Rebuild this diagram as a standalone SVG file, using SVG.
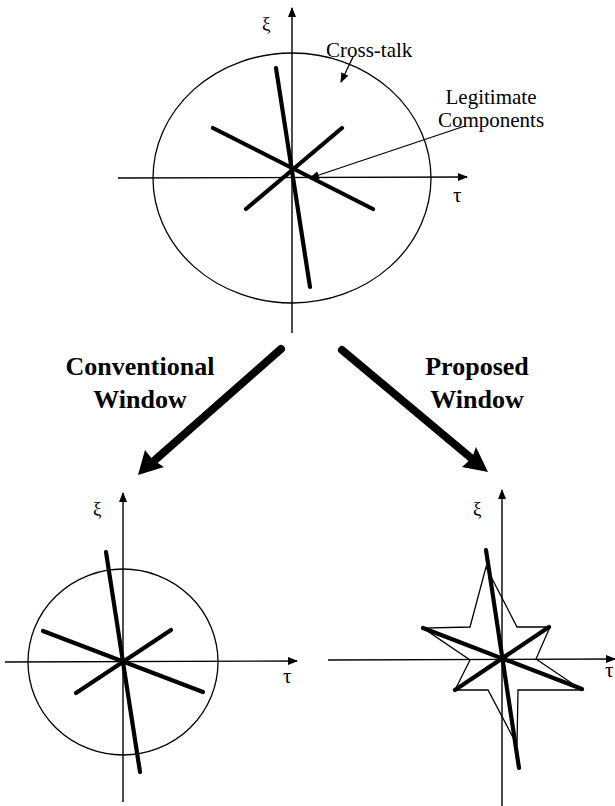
<svg xmlns="http://www.w3.org/2000/svg" width="615" height="806" viewBox="0 0 615 806">
<defs>
<marker id="ah" viewBox="0 0 10 8" refX="9" refY="4" markerWidth="10" markerHeight="8" markerUnits="userSpaceOnUse" orient="auto">
<path d="M0,0 L10,4 L0,8 Z" fill="#000"/>
</marker>
<style>
.thin{fill:none;stroke:#000;stroke-width:1.3}
.axis{fill:none;stroke:#000;stroke-width:1.4;marker-end:url(#ah)}
.thick{fill:none;stroke:#000;stroke-width:4.2;stroke-linecap:round}
.lbl{font-family:"Liberation Serif","Times New Roman",serif;font-size:21px;fill:#000}
.sym{font-family:"Liberation Serif","DejaVu Serif",serif;fill:#000}
.big{font-family:"Liberation Serif","Times New Roman",serif;font-size:26px;font-weight:bold;fill:#000;text-anchor:middle}
.fat{fill:none;stroke:#000;stroke-width:8;stroke-linecap:round}
</style>
</defs>
<rect width="615" height="806" fill="#fff"/>

<g id="top-plot">
<ellipse class="thin" cx="292" cy="178" rx="139" ry="125"/>
<line class="axis" x1="292" y1="333" x2="292" y2="8"/>
<line class="axis" x1="118" y1="178" x2="467" y2="177"/>
<line class="thick" x1="276" y1="68" x2="310" y2="287"/>
<line class="thick" x1="213" y1="128" x2="373" y2="209"/>
<line class="thick" x1="342" y1="128" x2="246" y2="209"/>
<text class="sym" x="262" y="30" font-size="19">ξ</text>
<text class="sym" x="453" y="202" font-size="21">τ</text>
</g>

<g id="cross-talk-label">
<text class="lbl" x="326" y="57">Cross-talk</text>
</g>
<g id="legitimate-label">
<text class="lbl" x="491" y="104" font-size="20.5" text-anchor="middle">Legitimate</text>
<text class="lbl" x="491" y="127" font-size="20.5" text-anchor="middle">Components</text>
</g>

<g id="bottom-left-plot">
<ellipse class="thin" cx="123" cy="662" rx="95" ry="93"/>
<line class="axis" x1="123" y1="802" x2="123" y2="493"/>
<line class="axis" x1="5" y1="662" x2="297" y2="661"/>
<line class="thick" x1="106" y1="552" x2="140" y2="772"/>
<line class="thick" x1="43" y1="631" x2="203" y2="692"/>
<line class="thick" x1="171" y1="630" x2="76" y2="693"/>
<text class="sym" x="93" y="515" font-size="19">ξ</text>
<text class="sym" x="283" y="683" font-size="21">τ</text>
</g>

<g id="bottom-right-plot">
<line class="axis" x1="502" y1="806" x2="502" y2="490"/>
<line class="axis" x1="328" y1="660" x2="615" y2="659"/>
<polygon class="thin" points="486,567 517,627 550,627 536,659 582,690 518,690 517,745 488,690 455,690 470,660 423,628 470,627"/>
<line class="thick" x1="486" y1="550" x2="519" y2="768"/>
<line class="thick" x1="423" y1="628" x2="582" y2="689"/>
<line class="thick" x1="549" y1="627" x2="455" y2="690"/>
<text class="sym" x="473" y="515" font-size="19">ξ</text>
<text class="sym" x="605" y="677" font-size="21">τ</text>
</g>

<g id="conventional-label">
<text class="big" x="140" y="375">Conventional</text>
<text class="big" x="140" y="408">Window</text>
</g>
<g id="proposed-label">
<text class="big" x="477" y="375">Proposed</text>
<text class="big" x="477" y="408">Window</text>
</g>

<g id="connectors">
<line class="thin" x1="353" y1="57" x2="341" y2="82" marker-end="url(#ah)"/>
<line class="thin" x1="465" y1="126" x2="310" y2="178" marker-end="url(#ah)"/>
<line class="fat" x1="281" y1="349" x2="155" y2="460"/>
<polygon points="138,475 145,450 153,460 164,467" fill="#000"/>
<line class="fat" x1="342" y1="350" x2="471" y2="458"/>
<polygon points="488,472 462,467 472,458 476,447" fill="#000"/>
</g>
</svg>
